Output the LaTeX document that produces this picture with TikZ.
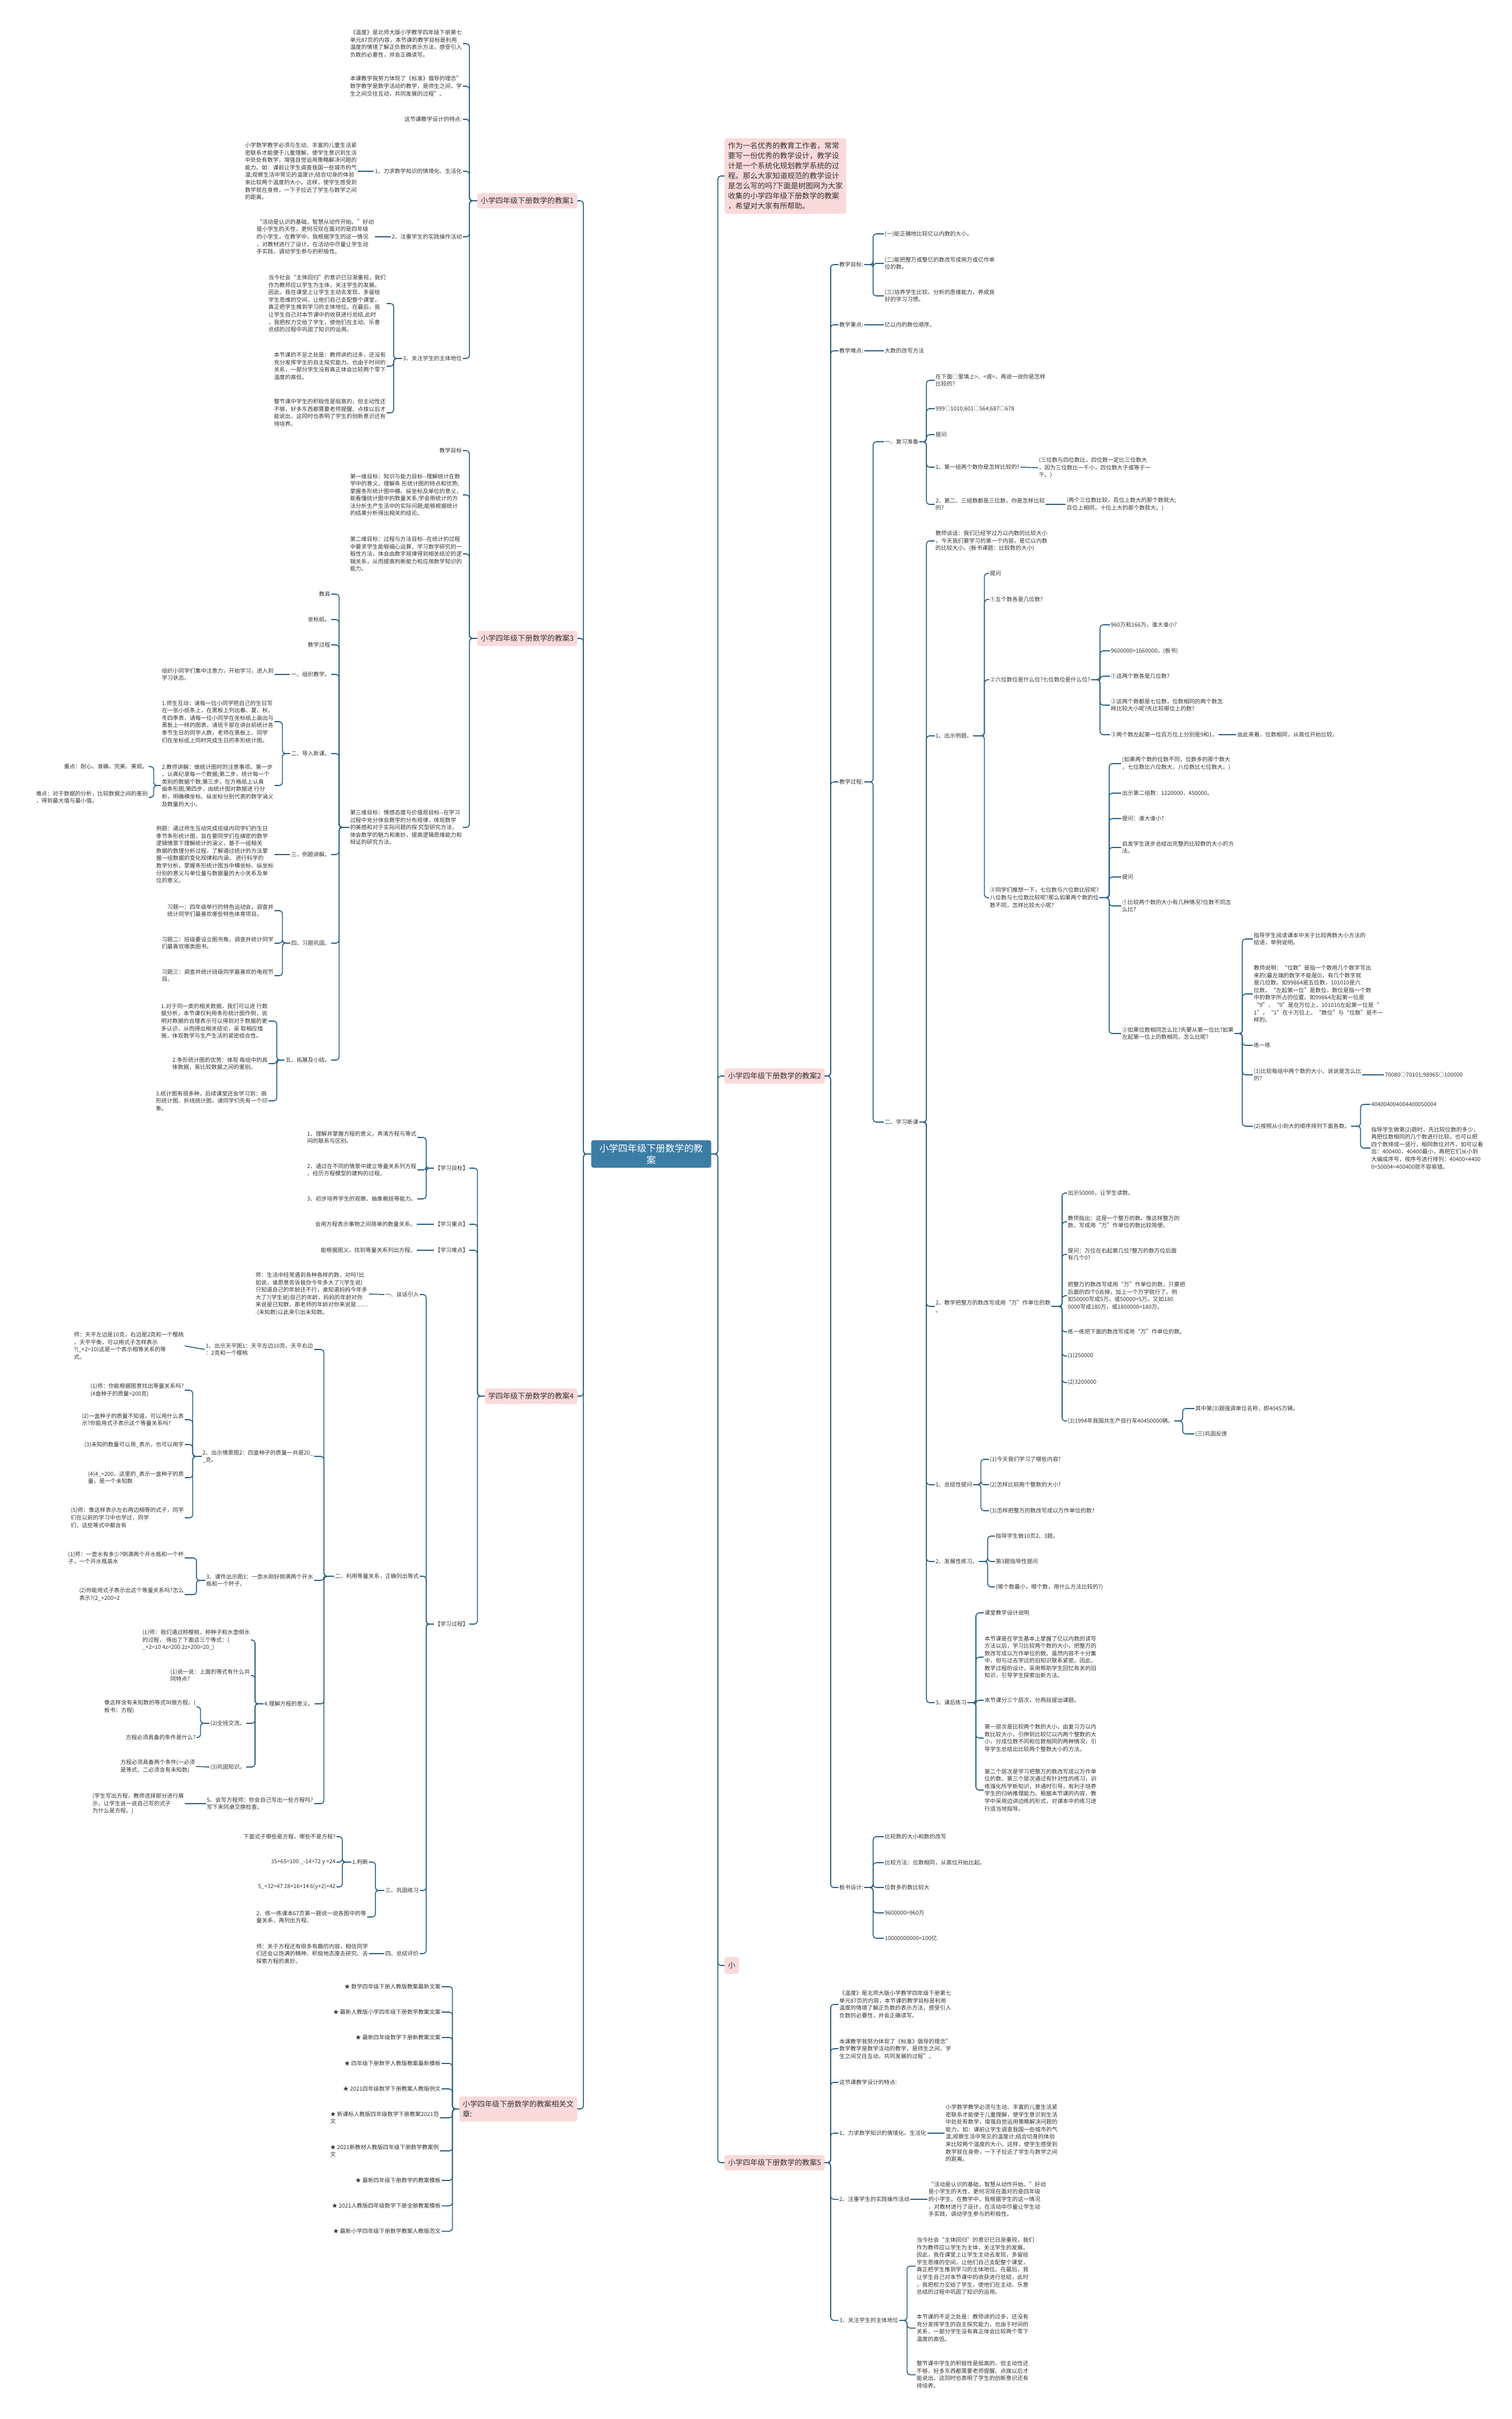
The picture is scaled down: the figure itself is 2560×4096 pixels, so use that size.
\documentclass[tikz,border=0pt]{standalone}
\usepackage{fontspec}
\setmainfont{Noto Sans CJK SC}
\usepackage{tikz}
\definecolor{linkblue}{HTML}{2D6285}
\definecolor{topicpink}{HTML}{FADADA}
\definecolor{rootblue}{HTML}{3C7DA6}
\definecolor{darktext}{HTML}{333333}

\begin{document}
\begin{tikzpicture}[
    x=1bp, y=-1bp,
    conn/.style={draw=linkblue, line width=1.6pt, rounded corners=5pt},
    leaf/.style={font=\fontsize{9.5}{12.6}\selectfont, text=darktext, inner sep=1.5pt, align=left},
    lleaf/.style={leaf, anchor=east},
    rleaf/.style={leaf, anchor=west},
    topic/.style={fill=topicpink, rounded corners=4pt, inner xsep=6pt, inner ysep=7pt,
      font=\fontsize{12.6}{17}\selectfont, text=darktext, align=left},
    rootbox/.style={fill=rootblue, rounded corners=4pt, text=white, inner xsep=14pt,
      inner ysep=6pt, font=\fontsize{16}{20}\selectfont, align=center}
  ]
  \fill[white] (0,0) rectangle (2560,4096);
  \useasboundingbox (0,0) rectangle (2560,4096);

  % centre and main topics
  \node[rootbox] (root) at (1103,1954) {小学四年级下册数学的教\\案};

  \node[topic, anchor=east] (plan1) at (978,340) {小学四年级下册数学的教案1};
  \node[topic, anchor=east] (plan3) at (978,1081) {小学四年级下册数学的教案3};
  \node[topic, anchor=east] (plan4) at (978,2364) {学四年级下册数学的教案4};
  \node[topic, anchor=east] (related) at (978,3571) {小学四年级下册数学的教案相关文\\章:};

  \node[topic, anchor=west] (intro) at (1227,298) {作为一名优秀的教育工作者，常常\\要写一份优秀的教学设计，教学设\\计是一个系统化规划教学系统的过\\程。那么大家知道规范的教学设计\\是怎么写的吗?下面是树图网为大家\\收集的小学四年级下册数学的教案\\，希望对大家有所帮助。};
  \node[topic, anchor=west] (plan2) at (1227,1822) {小学四年级下册数学的教案2};
  \node[topic, anchor=west, minimum height=29bp] (planx) at (1227,3328) {小};
  \node[topic, anchor=west] (plan5) at (1227,3662) {小学四年级下册数学的教案5};

  \foreach \n in {plan1,plan3,plan4,related} \draw[conn] (root.west) -- ++(-13,0) |- (\n.east);
  \foreach \n in {intro,plan2,planx,plan5} \draw[conn] (root.east) -- ++(11,0) |- (\n.west);

  % ---- plan 1
  \node[lleaf] (p1a) at (784,74) {《温度》是北师大版小学教学四年级下册第七\\单元87页的内容，本节课的教学目标是利用\\温度的情境了解正负数的表示方法，感受引入\\负数的必要性，并会正确读写。};
  \node[lleaf] (p1b) at (784,146) {本课教学我努力体现了《标准》倡导的理念”\\数学教学是数学活动的教学，是师生之间，学\\生之间交往互动，共同发展的过程”。};
  \node[lleaf] (p1c) at (784,202) {这节课教学设计的特点:};
  \node[lleaf] (p1d) at (784,290) {1、力求数学知识的情境化、生活化};
  \node[lleaf] (p1d1) at (606,290) {小学数学教学必须与生动、丰富的儿童生活紧\\密联系才能便于儿童理解，使学生意识到生活\\中处处有数学，增强自觉运用策略解决问题的\\能力。如：课前让学生调查我国一些城市的气\\温;观察生活中常见的温度计;结合切身的体验\\来比较两个温度的大小。这样，使学生感受到\\数学就在身旁，一下子拉近了学生与数学之间\\的距离。};
  \node[lleaf] (p1e) at (784,401) {2、注重学生的实践操作活动};
  \node[lleaf] (p1e1) at (635,401) {“活动是认识的基础，智慧从动作开始。”好动\\是小学生的天性，更何况现在面对的是四年级\\的小学生。在教学中，我根据学生的这一情况\\，对教材进行了设计，在活动中尽量让学生动\\手实践，调动学生参与的积极性。};
  \node[lleaf] (p1f) at (784,607) {3、关注学生的主体地位};
  \node[lleaf] (p1f1) at (655,514) {当今社会“主体回归”的意识已日渐重视，我们\\作为教师应以学生为主体，关注学生的发展。\\因此，我在课堂上让学生主动去发现，多留给\\学生思维的空间，让他们自己支配整个课堂，\\真正把学生推到学习的主体地位。在最后，我\\让学生自己对本节课中的收获进行总结,此时\\，我把权力交给了学生，使他们在主动、乐意\\总结的过程中巩固了知识的运用。};
  \node[lleaf] (p1f2) at (655,620) {本节课的不足之处是：教师讲的过多，还没有\\充分发挥学生的自主探究能力。也由于时间的\\关系，一部分学生没有真正体会比较两个零下\\温度的高低。};
  \node[lleaf] (p1f3) at (655,699) {整节课中学生的积极性是挺高的，但主动性还\\不够，好多东西都需要老师提醒、点拨以后才\\能说出，这同时也表明了学生的创新意识还有\\待培养。};

  \foreach \n in {p1a,p1b,p1c,p1d,p1e,p1f} \draw[conn] (plan1.west) -- ++(-13,0) |- (\n.east);
  \draw[conn] (p1d.west) -- (p1d1.east);
  \draw[conn] (p1e.west) -- (p1e1.east);
  \foreach \n in {p1f1,p1f2,p1f3} \draw[conn] (p1f.west) -- ++(-14,0) |- (\n.east);

  % ---- plan 3
  \node[lleaf] (p3a) at (784,763) {教学目标};
  \node[lleaf] (p3b) at (784,838) {第一维目标：知识与能力目标-{}-理解统计在数\\学中的意义，理解条 形统计图的特点和优势;\\掌握条形统计图中横、纵坐标及单位的意义，\\能看懂统计图中的数量关系;学会用统计的方\\法分析生产生活中的实际问题;能够根据统计\\的结果分析得出相关的结论。};
  \node[lleaf] (p3c) at (784,938) {第二维目标：过程与方法目标-{}-在统计的过程\\中要求学生能够细心运算，学习数学研究的一\\般性方法，体会由数字规律得到相关结论的逻\\辑关系，从而提高判断能力和应用数学知识的\\能力。};
  \node[lleaf] (p3d) at (784,1401) {第三维目标：情感态度与价值观目标-{}-在学习\\过程中充分体会数学的分布规律，体现数学\\的美感和对于实际问题的探 究型研究方法，\\体会数学的魅力和奥妙，提高逻辑思维能力和\\辩证的研究方法。};
  \foreach \n in {p3a,p3b,p3c,p3d} \draw[conn] (plan3.west) -- ++(-13,0) |- (\n.east);

  \node[lleaf] (p3d1) at (561,1006) {教具};
  \node[lleaf] (p3d2) at (561,1049) {坐标纸。};
  \node[lleaf] (p3d3) at (561,1092) {教学过程};
  \node[lleaf] (p3d4) at (561,1142) {一、组织教学。};
  \node[lleaf] (p3d5) at (561,1276) {二、导入新课。};
  \node[lleaf] (p3d6) at (561,1447) {三、例题讲解。};
  \node[lleaf] (p3d7) at (561,1597) {四、习题巩固。};
  \node[lleaf] (p3d8) at (561,1795) {五、拓展及小结。};
  \foreach \n in {p3d1,p3d2,p3d3,p3d4,p3d5,p3d6,p3d7,p3d8} \draw[conn] (p3d.west) -- ++(-17,0) |- (\n.east);

  \node[lleaf] (p3d4a) at (465,1142) {组织小同学们集中注意力，开始学习，进入到\\学习状态。};
  \draw[conn] (p3d4.west) -- (p3d4a.east);

  \node[lleaf] (p3d5a) at (465,1222) {1.师生互动：请每一位小同学把自己的生日写\\在一张小纸条上，在黑板上列出春、夏、秋、\\冬四季表，请每一位小同学在坐标纸上画出与\\黑板上一样的图表，请班干部在讲台前统计各\\季节生日的同学人数，老师在黑板上、同学\\们在坐标纸上同时完成生日的条形统计图。};
  \node[lleaf] (p3d5b) at (465,1330) {2.教师讲解：做统计图时的注意事项。第一步\\，认真纪录每一个数据;第二步，统计每一个\\类别的数据个数;第三步，在方格纸上认真\\画条形图;第四步，由统计图对数据进 行分\\析，明确横坐标、纵坐标分别代表的数学涵义\\及数量的大小。};
  \foreach \n in {p3d5a,p3d5b} \draw[conn] (p3d5.west) -- ++(-13,0) |- (\n.east);
  \node[lleaf] (p3d5b1) at (252,1298) {重点：耐心、准确、完美、美观。};
  \node[lleaf] (p3d5b2) at (252,1350) {难点：对于数据的分析，比较数据之间的差别\\，得到最大值与最小值。};
  \foreach \n in {p3d5b1,p3d5b2} \draw[conn] (p3d5b.west) -- ++(-12,0) |- (\n.east);

  \node[lleaf] (p3d6a) at (465,1447) {例题：通过师生互动完成班级内同学们的生日\\季节条形统计图，旨在要同学们在缜密的数学\\逻辑情景下理解统计的涵义，基于一组相关\\数据的数理分析过程，了解通过统计的方法掌\\握一组数据的变化规律和内涵， 进行科学的\\数学分析，掌握条形统计图当中横坐标、纵坐标\\分别的意义与单位量与数据量的大小关系及单\\位的意义。};
  \draw[conn] (p3d6.west) -- (p3d6a.east);

  \node[lleaf] (p3d7a) at (465,1542) {习题一：四年级举行的特色运动会，调查并\\统计同学们最喜欢哪些特色体育项目。};
  \node[lleaf] (p3d7b) at (465,1597) {习题二：班级要设立图书角，调查并统计同学\\们最喜欢哪类图书。};
  \node[lleaf] (p3d7c) at (465,1652) {习题三：调查并统计班级同学最喜欢的电视节\\目。};
  \foreach \n in {p3d7a,p3d7b,p3d7c} \draw[conn] (p3d7.west) -- ++(-13,0) |- (\n.east);

  \node[lleaf] (p3d8a) at (455,1729) {1.对于同一类的相关数据，我们可以进 行数\\据分析，本节课仅利用条形统计图作例，说\\明对数据的合理表示可以得到对于数据的更\\多认识，从而得出相关结论，采 取相应措\\施，体现数学与生产生活的紧密结合性。};
  \node[lleaf] (p3d8b) at (455,1801) {2.条形统计图的优势：体现 每组中的具\\体数据，易比较数据之间的差别。};
  \node[lleaf] (p3d8c) at (455,1864) {3.统计图有很多种，后续课堂还会学习到：扇\\形统计图、折线统计图，请同学们先有一个印\\象。};
  \foreach \n in {p3d8a,p3d8b,p3d8c} \draw[conn] (p3d8.west) -- ++(-13,0) |- (\n.east);

  % ---- plan 4
  \node[lleaf] (p4a) at (795,1978) {【学习目标】};
  \node[lleaf] (p4b) at (795,2073) {【学习重点】};
  \node[lleaf] (p4c) at (795,2117) {【学习难点】};
  \node[lleaf] (p4d) at (795,2750) {【学习过程】};
  \foreach \n in {p4a,p4b,p4c,p4d} \draw[conn] (plan4.west) -- ++(-12,0) |- (\n.east);

  \node[lleaf] (p4a1) at (707,1926) {1、理解并掌握方程的意义，弄清方程与等式\\间的联系与区别。};
  \node[lleaf] (p4a2) at (707,1981) {2、通过在不同的情景中建立等量关系列方程\\，经历方程模型的建构的过程。};
  \node[lleaf] (p4a3) at (707,2030) {3、初步培养学生的观察、抽象概括等能力。};
  \foreach \n in {p4a1,p4a2,p4a3} \draw[conn] (p4a.west) -- ++(-13,0) |- (\n.east);
  \node[lleaf] (p4b1) at (706,2073) {会用方程表示事物之间简单的数量关系。};
  \node[lleaf] (p4c1) at (706,2117) {能根据图义，找到等量关系列出方程。};
  \draw[conn] (p4b.west) -- (p4b1.east);
  \draw[conn] (p4c.west) -- (p4c1.east);

  \node[lleaf] (p4d1) at (711,2192) {一、谈话引入};
  \node[lleaf] (p4d2) at (711,2669) {二、利用等量关系，正确列出等式};
  \node[lleaf] (p4d3) at (711,3201) {三、巩固练习};
  \node[lleaf] (p4d4) at (711,3308) {四、总结评价};
  \foreach \n in {p4d1,p4d2,p4d3,p4d4} \draw[conn] (p4d.west) -- ++(-13,0) |- (\n.east);

  \node[lleaf] (p4d1a) at (625,2191) {师：生活中经常遇到各种各样的数，对吗?比\\如说，谁愿意告诉我你今年多大了?(学生说)\\只知道自己的年龄还不行，谁知道妈妈今年多\\大了?(学生说)自己的年龄，妈妈的年龄对你\\来说是已知数，那老师的年龄对你来说是……\\.(未知数)以此来引出未知数。};
  \draw[conn] (p4d1.west) -- (p4d1a.east);

  \node[lleaf] (p4d2a) at (532,2285) {1、出示天平图1：天平左边10克，天平右边\\：2克和一个樱桃};
  \node[lleaf] (p4d2b) at (532,2466) {2、出示情景图2：四盒种子的质量一共是20\_\\\_克。};
  \node[lleaf] (p4d2c) at (532,2676) {3、课件出示图3：一壶水刚好倒满两个开水\\瓶和一个杯子。};
  \node[lleaf] (p4d2d) at (533,2885) {4.理解方程的意义。};
  \node[lleaf] (p4d2e) at (532,3054) {5、会写方程师：你会自己写出一些方程吗?\\写下来同桌交换检查。};
  \foreach \n in {p4d2a,p4d2b,p4d2c,p4d2d,p4d2e} \draw[conn] (p4d2.west) -- ++(-17,0) |- (\n.east);

  \node[lleaf] (p4d2a1) at (313,2279) {师：天平左边是10克，右边是2克和一个樱桃\\，天平平衡，可以用式子怎样表示\\?(\_+2=10)这是一个表示相等关系的等\\式。};
  \draw[conn] (p4d2a.west) -- (p4d2a1.east);

  \node[lleaf] (p4d2b1) at (313,2354) {(1)师：你能根据图意找出等量关系吗?\\(4盒种子的质量=200克)};
  \node[lleaf] (p4d2b2) at (313,2404) {(2)一盒种子的质量不知道，可以用什么表\\示?你能用式子表示这个等量关系吗?};
  \node[lleaf] (p4d2b3) at (313,2446) {(3)未知的数量可以用\_表示，也可以用字};
  \node[lleaf] (p4d2b4) at (313,2502) {(4)4\_=200，这里的\_表示一盒种子的质\\量，是一个未知数};
  \node[lleaf] (p4d2b5) at (313,2570) {(5)师：像这样表示左右两边相等的式子，同学\\们在以前的学习中也学过，同学\\们，这些等式中都含有};
  \foreach \n in {p4d2b1,p4d2b2,p4d2b3,p4d2b4,p4d2b5} \draw[conn] (p4d2b.west) -- ++(-15,0) |- (\n.east);

  \node[lleaf] (p4d2c1) at (313,2638) {(1)师：一壶水有多少?倒满两个开水瓶和一个杯\\子，一个开水瓶装水};
  \node[lleaf] (p4d2c2) at (313,2700) {(2)你能用式子表示出这个等量关系吗?怎么\\表示?(2\_+200=2};
  \foreach \n in {p4d2c1,p4d2c2} \draw[conn] (p4d2c.west) -- ++(-15,0) |- (\n.east);

  \node[lleaf] (p4d2d1) at (425,2777) {(1)师：我们通过称樱桃，称种子和水壶倒水\\的过程， 得出了下面这三个等式：(\\\_+2=10 4z=200 2z+200=20\_)};
  \node[lleaf] (p4d2d2) at (425,2837) {(1)说一说：上面的等式有什么共\\同特点?};
  \node[lleaf] (p4d2d3) at (417,2918) {(2)全班交流。};
  \node[lleaf] (p4d2d4) at (417,2992) {(3)巩固知识。};
  \foreach \n in {p4d2d1,p4d2d2,p4d2d3,p4d2d4} \draw[conn] (p4d2d.west) -- ++(-14,0) |- (\n.east);

  \node[lleaf] (p4d2d3a) at (333,2890) {像这样含有未知数的等式叫做方程。(\\板书：方程)};
  \node[lleaf] (p4d2d3b) at (333,2942) {方程必须具备的条件是什么?};
  \foreach \n in {p4d2d3a,p4d2d3b} \draw[conn] (p4d2d3.west) -- ++(-15,0) |- (\n.east);
  \node[lleaf] (p4d2d4a) at (332,2991) {方程必须具备两个条件(一必须\\是等式，二必须含有未知数)};
  \draw[conn] (p4d2d4.west) -- (p4d2d4a.east);

  \node[lleaf] (p4d2e1) at (313,3054) {(学生写出方程，教师选择部分进行展\\示，让学生说一说自己写的式子\\为什么是方程。)};
  \draw[conn] (p4d2e.west) -- (p4d2e1.east);

  \node[lleaf] (p4d3a) at (625,3153) {1.判断};
  \node[lleaf] (p4d3b) at (622,3246) {2、练一练课本67页第一题说一说各图中的等\\量关系，再列出方程。};
  \foreach \n in {p4d3a,p4d3b} \draw[conn] (p4d3.west) -- ++(-15,0) |- (\n.east);
  \node[lleaf] (p4d3a1) at (570,3110) {下面式子哪些是方程，哪些不是方程?};
  \node[lleaf] (p4d3a2) at (570,3153) {35+65=100 \_-14>72 y +24};
  \node[lleaf] (p4d3a3) at (570,3195) {5\_+32=47 28<16+14 6(y+2)=42};
  \foreach \n in {p4d3a1,p4d3a2,p4d3a3} \draw[conn] (p4d3a.west) -- ++(-15,0) |- (\n.east);

  \node[lleaf] (p4d4a) at (625,3308) {师：关于方程还有很多有趣的内容，相信同学\\们还会以饱满的精神、积极地态度去研究、去\\探索方程的奥妙。};
  \draw[conn] (p4d4.west) -- (p4d4a.east);

  % ---- related articles
  \node[lleaf] (ra) at (748,3364) {★ 数学四年级下册人教版教案最新文案};
  \node[lleaf] (rb) at (748,3407) {★ 最新人教版小学四年级下册数学教案文案};
  \node[lleaf] (rc) at (748,3450) {★ 最新四年级数学下册新教案文案};
  \node[lleaf] (rd) at (748,3494) {★ 四年级下册数学人教版教案最新模板};
  \node[lleaf] (re) at (748,3537) {★ 2021四年级数学下册教案人教版例文};
  \node[lleaf] (rf) at (745,3586) {★ 新课标人教版四年级数学下册教案2021范\\文};
  \node[lleaf] (rg) at (745,3642) {★ 2021新教材人教版四年级下册数学教案例\\文};
  \node[lleaf] (rh) at (748,3692) {★ 最新四年级下册数学的教案模板};
  \node[lleaf] (ri) at (748,3735) {★ 2021人教版四年级数学下册全册教案模板};
  \node[lleaf] (rj) at (748,3778) {★ 最新小学四年级下册数学教案人教版范文};
  \foreach \n in {ra,rb,rc,rd,re,rf,rg,rh,ri,rj} \draw[conn] (related.west) -- ++(-11,0) |- (\n.east);

  % ---- plan 2
  \node[rleaf] (q1) at (1420,448) {教学目标:};
  \node[rleaf] (q2) at (1420,550) {教学重点:};
  \node[rleaf] (q3) at (1420,594) {教学难点:};
  \node[rleaf] (q4) at (1420,1324) {教学过程:};
  \node[rleaf] (q5) at (1420,3196) {板书设计:};
  \foreach \n in {q1,q2,q3,q4,q5} \draw[conn] (plan2.east) -- ++(10,0) |- (\n.west);

  \node[rleaf] (q1a) at (1497,396) {(一)能正确地比较亿以内数的大小。};
  \node[rleaf] (q1b) at (1497,446) {(二)能把整万或整亿的数改写成用万或亿作单\\位的数。};
  \node[rleaf] (q1c) at (1497,501) {(三)培养学生比较、分析的思维能力，养成良\\好的学习习惯。};
  \foreach \n in {q1a,q1b,q1c} \draw[conn] (q1.east) -- ++(15,0) |- (\n.west);
  \node[rleaf] (q2a) at (1497,550) {亿以内的数位顺序。};
  \node[rleaf] (q3a) at (1497,594) {大数的改写方法};
  \draw[conn] (q2.east) -- (q2a.west);
  \draw[conn] (q3.east) -- (q3a.west);

  \node[rleaf] (q4a) at (1497,748) {一、复习准备};
  \node[rleaf] (q4b) at (1497,1900) {二、学习新课};
  \foreach \n in {q4a,q4b} \draw[conn] (q4.east) -- ++(15,0) |- (\n.west);

  \node[rleaf] (q4a1) at (1583,644) {在下面○里填上>、<或=，再说一说你是怎样\\比较的?};
  \node[rleaf] (q4a2) at (1583,692) {999○1010;601○564;687○678};
  \node[rleaf] (q4a3) at (1583,736) {提问};
  \node[rleaf] (q4a4) at (1583,791) {1、第一组两个数你是怎样比较的?};
  \node[rleaf] (q4a5) at (1583,854) {2、第二、三组数都是三位数，你是怎样比较\\的?};
  \foreach \n in {q4a1,q4a2,q4a3,q4a4,q4a5} \draw[conn] (q4a.east) -- ++(12,0) |- (\n.west);
  \node[rleaf] (q4a4a) at (1758,792) {(三位数与四位数比，四位数一定比三位数大\\，因为三位数比一千小，四位数大于或等于一\\千。)};
  \node[rleaf] (q4a5a) at (1805,854) {(两个三位数比较，百位上数大的那个数就大;\\百位上相同，十位上大的那个数就大。)};
  \draw[conn] (q4a4.east) -- (q4a4a.west);
  \draw[conn] (q4a5.east) -- (q4a5a.west);

  \node[rleaf] (q4b1) at (1583,916) {教师谈话：我们已经学过万以内数的比较大小\\，今天我们要学习的第一个内容，是亿以内数\\的比较大小。(板书课题：比较数的大小)};
  \node[rleaf] (q4b2) at (1583,1246) {1、出示例题。};
  \node[rleaf] (q4b3) at (1583,2212) {2、教学把整万的数改写成用“万”作单位的数\\。};
  \node[rleaf] (q4b4) at (1583,2514) {1、总结性提问};
  \node[rleaf] (q4b5) at (1583,2644) {2、发展性练习。};
  \node[rleaf] (q4b6) at (1583,2883) {3、课后练习};
  \foreach \n in {q4b1,q4b2,q4b3,q4b4,q4b5,q4b6} \draw[conn] (q4b.east) -- ++(12,0) |- (\n.west);

  \node[rleaf] (q4b2a) at (1675,971) {提问};
  \node[rleaf] (q4b2b) at (1675,1015) {①五个数各是几位数?};
  \node[rleaf] (q4b2c) at (1675,1151) {②六位数位是什么位?七位数位是什么位?};
  \node[rleaf] (q4b2d) at (1675,1520) {③同学们推想一下，七位数与六位数比较呢?\\八位数与七位数比较呢?那么如果两个数的位\\数不同，怎样比较大小呢?};
  \foreach \n in {q4b2a,q4b2b,q4b2c,q4b2d} \draw[conn] (q4b2.east) -- ++(19,0) |- (\n.west);

  \node[rleaf] (c1) at (1880,1058) {960万和166万，谁大谁小?};
  \node[rleaf] (c2) at (1880,1102) {9600000>1660000。(板书)};
  \node[rleaf] (c3) at (1880,1145) {①这两个数各是几位数?};
  \node[rleaf] (c4) at (1880,1194) {②这两个数都是七位数，位数相同的两个数怎\\样比较大小呢?先比较哪位上的数?};
  \node[rleaf] (c5) at (1880,1244) {③两个数左起第一位百万位上分别是9和1，};
  \foreach \n in {c1,c2,c3,c4,c5} \draw[conn] (q4b2c.east) -- ++(15,0) |- (\n.west);
  \node[rleaf] (c5a) at (2094,1244) {由此来看，位数相同，从高位开始比较。};
  \draw[conn] (c5.east) -- (c5a.west);

  \node[rleaf] (d1) at (1899,1293) {(如果两个数的位数不同，位数多的那个数大\\，七位数比六位数大，八位数比七位数大。)};
  \node[rleaf] (d2) at (1899,1343) {出示第二组数：1220000，450000。};
  \node[rleaf] (d3) at (1899,1386) {提问：谁大谁小?};
  \node[rleaf] (d4) at (1899,1435) {启发学生逐步总结出完整的比较数的大小的方\\法。};
  \node[rleaf] (d5) at (1899,1485) {提问};
  \node[rleaf] (d6) at (1899,1534) {①比较两个数的大小有几种情况?位数不同怎\\么比?};
  \node[rleaf] (d7) at (1899,1750) {②如果位数相同怎么比?先要从第一位比?如果\\左起第一位上的数相同，怎么比呢?};
  \foreach \n in {d1,d2,d3,d4,d5,d6,d7} \draw[conn] (q4b2d.east) -- ++(16,0) |- (\n.west);

  \node[rleaf] (e1) at (2122,1590) {指导学生阅读课本中关于比较两数大小方法的\\结语，举例说明。};
  \node[rleaf] (e2) at (2122,1683) {教师说明：“位数”是指一个数用几个数字写出\\来的(最左端的数字不能是0)，有几个数字就\\是几位数。如99864是五位数，101010是六\\位数。“左起第一位”是数位，数位是指一个数\\中的数字所占的位置。如99864左起第一位是\\“9”，“9”是在万位上，101010左起第一位是“\\1”，“1”在十万位上。“数位”与“位数”是不一\\样的。};
  \node[rleaf] (e3) at (2122,1770) {练一练};
  \node[rleaf] (e4) at (2122,1820) {(1)比较每组中两个数的大小，说说是怎么比\\的?};
  \node[rleaf] (e5) at (2122,1907) {(2)按照从小到大的顺序排列下面各数。};
  \foreach \n in {e1,e2,e3,e4,e5} \draw[conn] (d7.east) -- ++(13,0) |- (\n.west);
  \node[rleaf] (e4a) at (2344,1820) {70080○70101;98965○100000};
  \draw[conn] (e4.east) -- (e4a.west);
  \node[rleaf] (f1) at (2321,1870) {404004004004400050004};
  \node[rleaf] (f2) at (2321,1944) {指导学生做第(2)题时，先比较位数的多少，\\再把位数相同的几个数进行比较，也可以把\\四个数排成一竖行，相同数位对齐，如可以看\\出：400400，40400最小，再把它们从小到\\大编成序号，按序号进行排列：40400<4400\\0<50004<400400就不容易错。};
  \foreach \n in {f1,f2} \draw[conn] (e5.east) -- ++(16,0) |- (\n.west);

  \node[rleaf] (g1) at (1807,2020) {出示50000，让学生读数。};
  \node[rleaf] (g2) at (1807,2069) {教师指出：这是一个整万的数。像这样整万的\\数，写成用“万”作单位的数比较简便。};
  \node[rleaf] (g3) at (1807,2124) {提问：万位在右起第几位?整万的数万位后面\\有几个0?};
  \node[rleaf] (g4) at (1807,2194) {把整万的数改写成用“万”作单位的数，只要把\\后面的四个0去掉，加上一个万字就行了。例\\如50000写成5万，或50000=5万。又如180\\0000写成180万，或1800000=180万。};
  \node[rleaf] (g5) at (1807,2255) {练一练把下面的数改写成用“万”作单位的数。};
  \node[rleaf] (g6) at (1807,2296) {(1)250000};
  \node[rleaf] (g7) at (1807,2341) {(2)3200000};
  \node[rleaf] (g8) at (1807,2406) {(3)1994年我国共生产自行车40450000辆。};
  \foreach \n in {g1,g2,g3,g4,g5,g6,g7,g8} \draw[conn] (q4b3.east) -- ++(18,0) |- (\n.west);
  \node[rleaf] (g8a) at (2023,2385) {其中第(3)题强调单位名称，即4045万辆。};
  \node[rleaf] (g8b) at (2023,2428) {(三)巩固反馈};
  \foreach \n in {g8a,g8b} \draw[conn] (g8.east) -- ++(14,0) |- (\n.west);

  \node[rleaf] (h1) at (1675,2471) {(1)今天我们学习了哪些内容?};
  \node[rleaf] (h2) at (1675,2514) {(2)怎样比较两个整数的大小?};
  \node[rleaf] (h3) at (1675,2558) {(3)怎样把整万的数改写成以万作单位的数?};
  \foreach \n in {h1,h2,h3} \draw[conn] (q4b4.east) -- ++(13,0) |- (\n.west);

  \node[rleaf] (k1) at (1685,2601) {指导学生做10页2、3题。};
  \node[rleaf] (k2) at (1685,2644) {第3题指导性提问};
  \node[rleaf] (k3) at (1685,2687) {(哪个数最小，哪个数，用什么方法比较的?)};
  \foreach \n in {k1,k2,k3} \draw[conn] (q4b5.east) -- ++(15,0) |- (\n.west);

  \node[rleaf] (m1) at (1666,2731) {课堂教学设计说明};
  \node[rleaf] (m2) at (1666,2806) {本节课是在学生基本上掌握了亿以内数的读写\\方法以后，学习比较两个数的大小，把整万的\\数改写成以万作单位的数。虽然内容不十分集\\中，但与过去学过的旧知识联系紧密。因此，\\教学过程的设计，采用帮助学生回忆有关的旧\\知识，引导学生探索出新方法。};
  \node[rleaf] (m3) at (1666,2879) {本节课分三个层次，分两段提出课题。};
  \node[rleaf] (m4) at (1666,2943) {第一层次是比较两个数的大小。由复习万以内\\数比较大小，引伸到比较亿以内两个整数的大\\小，分成位数不同和位数相同的两种情况，引\\导学生总结出比较两个整数大小的方法。};
  \node[rleaf] (m5) at (1666,3031) {第二个层次是学习把整万的数改写成以万作单\\位的数。第三个层次通过有针对性的练习，训\\练强化所学新知识，并通时引导，有利于培养\\学生的归纳推理能力。根据本节课的内容，教\\学中采用边讲边练的形式，对课本中的练习进\\行适当地指导。};
  \foreach \n in {m1,m2,m3,m4,m5} \draw[conn] (q4b6.east) -- ++(14,0) |- (\n.west);

  \node[rleaf] (q5a) at (1497,3110) {比较数的大小和数的改写};
  \node[rleaf] (q5b) at (1497,3154) {比较方法：位数相同，从高位开始比起。};
  \node[rleaf] (q5c) at (1497,3196) {位数多的数比较大};
  \node[rleaf] (q5d) at (1497,3239) {9600000=960万};
  \node[rleaf] (q5e) at (1497,3282) {10000000000=100亿};
  \foreach \n in {q5a,q5b,q5c,q5d,q5e} \draw[conn] (q5.east) -- ++(15,0) |- (\n.west);

  % ---- plan 5
  \node[rleaf] (r1) at (1420,3394) {《温度》是北师大版小学教学四年级下册第七\\单元87页的内容，本节课的教学目标是利用\\温度的情境了解正负数的表示方法，感受引入\\负数的必要性，并会正确读写。};
  \node[rleaf] (r2) at (1420,3469) {本课教学我努力体现了《标准》倡导的理念”\\数学教学是数学活动的教学，是师生之间，学\\生之间交往互动，共同发展的过程”。};
  \node[rleaf] (r3) at (1420,3526) {这节课教学设计的特点:};
  \node[rleaf] (r4) at (1420,3612) {1、力求数学知识的情境化、生活化};
  \node[rleaf] (r5) at (1420,3724) {2、注重学生的实践操作活动};
  \node[rleaf] (r6) at (1420,3929) {3、关注学生的主体地位};
  \foreach \n in {r1,r2,r3,r4,r5,r6} \draw[conn] (plan5.east) -- ++(10,0) |- (\n.west);

  \node[rleaf] (r4a) at (1600,3612) {小学数学教学必须与生动、丰富的儿童生活紧\\密联系才能便于儿童理解，使学生意识到生活\\中处处有数学，增强自觉运用策略解决问题的\\能力。如：课前让学生调查我国一些城市的气\\温;观察生活中常见的温度计;结合切身的体验\\来比较两个温度的大小。这样，使学生感受到\\数学就在身旁，一下子拉近了学生与数学之间\\的距离。};
  \node[rleaf] (r5a) at (1571,3724) {“活动是认识的基础，智慧从动作开始。”好动\\是小学生的天性，更何况现在面对的是四年级\\的小学生。在教学中，我根据学生的这一情况\\，对教材进行了设计，在活动中尽量让学生动\\手实践，调动学生参与的积极性。};
  \draw[conn] (r4.east) -- (r4a.west);
  \draw[conn] (r5.east) -- (r5a.west);

  \node[rleaf] (r6a) at (1551,3837) {当今社会“主体回归”的意识已日渐重视，我们\\作为教师应以学生为主体，关注学生的发展。\\因此，我在课堂上让学生主动去发现，多留给\\学生思维的空间，让他们自己支配整个课堂，\\真正把学生推到学习的主体地位。在最后，我\\让学生自己对本节课中的收获进行总结，此时\\，我把权力交给了学生，使他们在主动、乐意\\总结的过程中巩固了知识的运用。};
  \node[rleaf] (r6b) at (1551,3942) {本节课的不足之处是：教师讲的过多，还没有\\充分发挥学生的自主探究能力。也由于时间的\\关系，一部分学生没有真正体会比较两个零下\\温度的高低。};
  \node[rleaf] (r6c) at (1551,4021) {整节课中学生的积极性是挺高的，但主动性还\\不够，好多东西都需要老师提醒、点拨以后才\\能说出，这同时也表明了学生的创新意识还有\\待培养。};
  \foreach \n in {r6a,r6b,r6c} \draw[conn] (r6.east) -- ++(13,0) |- (\n.west);

\end{tikzpicture}
\end{document}
